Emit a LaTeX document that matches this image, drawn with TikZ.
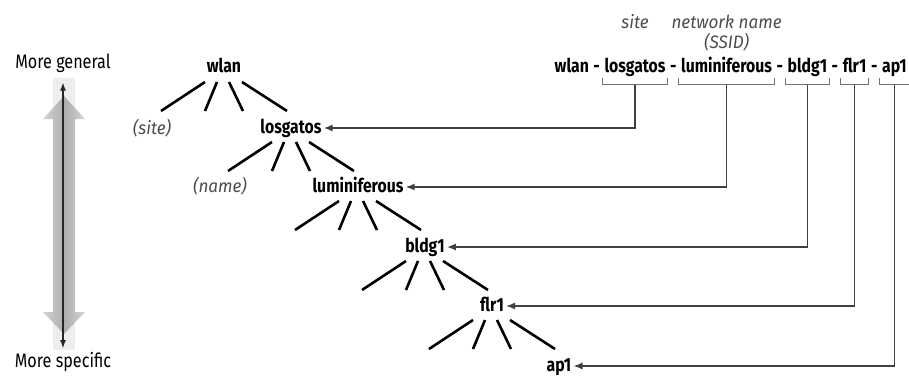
\documentclass[tikz,border=0pt]{standalone}
\usepackage{fontspec}
\setmainfont{Fira Sans}[FakeStretch=0.83]
\newfontfamily\notefont{Fira Sans}[FakeStretch=0.95]
\usetikzlibrary{positioning, arrows.meta, calc}

\begin{document}
\begin{tikzpicture}[
  x=1pt, y=-1pt,
  lvl/.style={font=\bfseries\fontsize{19}{21}\selectfont, inner xsep=2pt, inner ysep=1pt,
              text height=14pt, text depth=4pt},
  seg/.style={lvl, inner xsep=2.1pt},
  note/.style={font=\notefont\itshape\fontsize{18}{20}\selectfont, text=black!70, inner sep=0pt},
  side/.style={font=\fontsize{19.5}{21}\selectfont, inner sep=0pt},
  twig/.style={line width=2.6pt},
  arr/.style={-{Latex[length=9pt, width=7pt]}, draw=black!75, line width=1.4pt},
  brk/.style={draw=black!55, line width=1pt},
  dbl/.style={{Latex[length=8pt, width=6pt]}-{Latex[length=8pt, width=6pt]},
              draw=black!85, line width=1.2pt},
]
\useasboundingbox (0,0) rectangle (909,377);

%% ---- left: the general / specific scale ----
\fill[black!7] (53,78) rectangle (75,350);
\shade[left color=black!17, right color=black!17, middle color=black!32]
  (64,96) -- (85,119) -- (75,119) -- (75,312) -- (85,312) -- (64,334)
  -- (43,312) -- (53,312) -- (53,119) -- (43,119) -- cycle;
\node[side] (gen)  at (63,63)  {More general};
\node[side] (spec) at (63,362) {More specific};
\draw[dbl] ([yshift=-10pt]gen.south) -- ([yshift=4pt]spec.north);

%% ---- the tree, one level per step ----
\node[lvl] (wlan)         at (224,68)  {wlan};
\node[lvl] (losgatos)     at (291,128) {losgatos};
\node[lvl] (luminiferous) at (358,187) {luminiferous};
\node[lvl] (bldg1)        at (425,247) {bldg1};
\node[lvl] (flr1)         at (492,306) {flr1};
\node[lvl] (ap1)          at (559,366) {ap1};

\foreach \n in {wlan,losgatos,luminiferous,bldg1,flr1}
  \foreach \a/\b in {-19/-63,-7/-19,5/19,18/63}
    \draw[twig] ([shift={(\a,14)}]\n.center) -- ([shift={(\b,43)}]\n.center);

\node[note] (nsite) at (152,128) {(site)};
\node[note] (nname) at (220,186) {(name)};

%% ---- the full name, read left to right ----
\node[seg, anchor=east]          (pap1) at (909,68) {ap1};
\node[seg, left=0pt of pap1]     (d5) {-};
\node[seg, left=0pt of d5]       (pflr1) {flr1};
\node[seg, left=0pt of pflr1]    (d4) {-};
\node[seg, left=0pt of d4]       (pbldg1) {bldg1};
\node[seg, left=0pt of pbldg1]   (d3) {-};
\node[seg, left=0pt of d3]       (pluminiferous) {luminiferous};
\node[seg, left=0pt of pluminiferous] (d2) {-};
\node[seg, left=0pt of d2]       (plosgatos) {losgatos};
\node[seg, left=0pt of plosgatos] (d1) {-};
\node[seg, left=0pt of d1]       (pwlan) {wlan};

\node[note] (tsite) at (plosgatos |- 0,22) {site};
\node[note] (tnet)  at (pluminiferous |- 0,22) {network name};
\node[note] (tssid) at (pluminiferous |- 0,42) {(SSID)};

%% brackets, then a leader down and across to the tree
\foreach \p in {losgatos,luminiferous,bldg1,flr1,ap1} {
  \draw[brk] ([yshift=-10pt]p\p.west) -- ([yshift=-17pt]p\p.west)
    -- ([yshift=-17pt]p\p.east) -- ([yshift=-10pt]p\p.east);
  \draw[arr] ([yshift=-17pt]p\p.center) |- (\p.east);
}
\end{tikzpicture}
\end{document}
